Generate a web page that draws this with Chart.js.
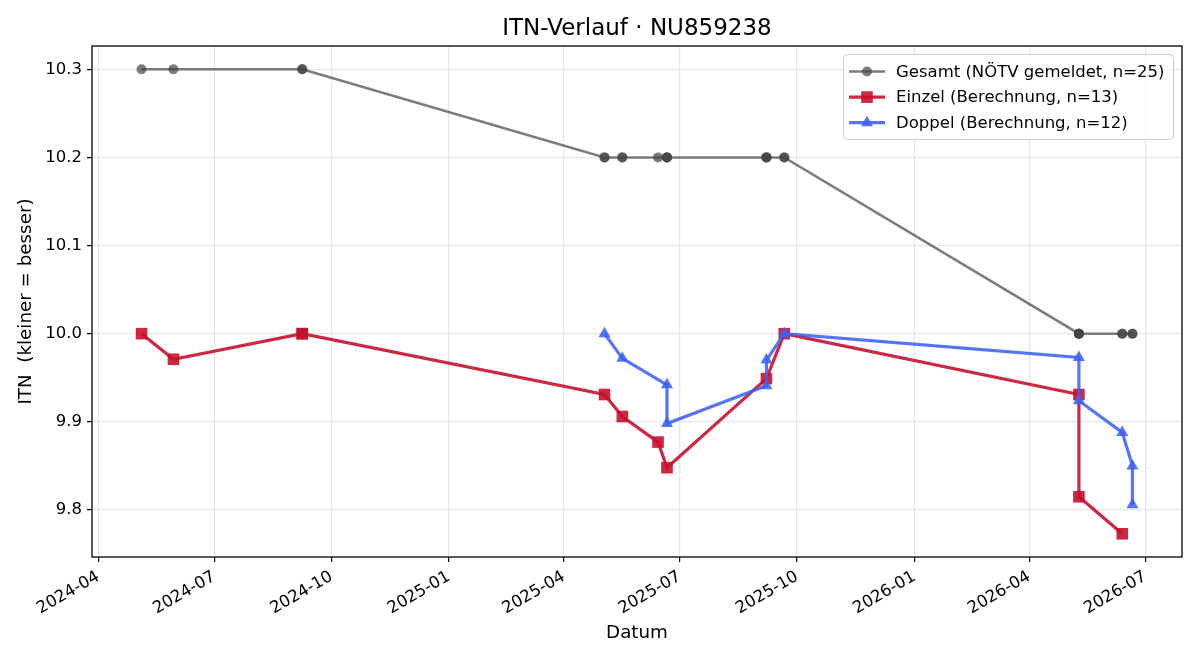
<!DOCTYPE html>
<html>
<head>
<meta charset="utf-8">
<title>ITN-Verlauf</title>
<script src="https://cdn.jsdelivr.net/npm/chart.js@4.4.1/dist/chart.umd.min.js"></script>
<style>
  html, body { margin: 0; padding: 0; background: #fff; }
</style>
</head>
<body>
<canvas id="itnChart" width="1200" height="660"></canvas>
<script>
// values
const gesamtDates = [
    "2024-05-05", "2024-05-30", "2024-09-08", "2024-09-08",
    "2025-05-03", "2025-05-03", "2025-05-17", "2025-05-17", "2025-06-14",
    "2025-06-21", "2025-06-21", "2025-06-21", "2025-09-07", "2025-09-07", "2025-09-07",
    "2025-09-21", "2025-09-21",
    "2026-05-10", "2026-05-10", "2026-05-10", "2026-05-10",
    "2026-06-13", "2026-06-13", "2026-06-21", "2026-06-21"
];
const gesamtValues = [
    10.3, 10.3, 10.3, 10.3,
    10.2, 10.2, 10.2, 10.2, 10.2,
    10.2, 10.2, 10.2, 10.2, 10.2, 10.2,
    10.2, 10.2,
    10.0, 10.0, 10.0, 10.0,
    10.0, 10.0, 10.0, 10.0
];

const einzelDates = [
    "2024-05-05", "2024-05-30", "2024-09-08", "2024-09-08",
    "2025-05-03", "2025-05-17", "2025-06-14", "2025-06-21",
    "2025-09-07", "2025-09-21", "2026-05-10", "2026-05-10", "2026-06-13"
];
const einzelValues = [
    10.0, 9.971, 10.0, 10.0,
    9.931, 9.906, 9.877, 9.848,
    9.949, 10.0, 9.931, 9.815, 9.773
];

const doppelDates = [
    "2025-05-03", "2025-05-17", "2025-06-21", "2025-06-21",
    "2025-09-07", "2025-09-07", "2025-09-21", "2026-05-10",
    "2026-05-10", "2026-06-13", "2026-06-21", "2026-06-21"
];
const doppelValues = [
    10.0, 9.972, 9.942, 9.898,
    9.941, 9.970, 10.0, 9.973,
    9.924, 9.888, 9.850, 9.806
];

const xTickLabels = [
    "2024-04", "2024-07", "2024-10", "2025-01", "2025-04",
    "2025-07", "2025-10", "2026-01", "2026-04", "2026-07"
];
const yTickLabels = ["9.8", "9.9", "10.0", "10.1", "10.2", "10.3"];

const seriesLabels = [
    "Gesamt (NÖTV gemeldet, n=25)",
    "Einzel (Berechnung, n=13)",
    "Doppel (Berechnung, n=12)"
];

const FONT = "'DejaVu Sans', 'Liberation Sans', sans-serif";

function toTime(s) {
    const p = s.split("-").map(Number);
    return Date.UTC(p[0], p[1] - 1, p[2] || 1);
}

function toPoints(dates, values) {
    return dates.map((d, i) => ({ x: toTime(d), y: values[i] }));
}

// matplotlib-like 5% margins
const allTimes = gesamtDates.map(toTime);
const tMin = Math.min(...allTimes), tMax = Math.max(...allTimes);
const xMin = tMin - (tMax - tMin) * 0.05;
const xMax = tMax + (tMax - tMin) * 0.05;
const allVals = gesamtValues.concat(einzelValues, doppelValues);
const vMin = Math.min(...allVals), vMax = Math.max(...allVals);
const yMin = vMin - (vMax - vMin) * 0.05;
const yMax = vMax + (vMax - vMin) * 0.05;

// center the title over the plot area, not the whole canvas
const titleOverPlot = {
    id: "titleOverPlot",
    afterLayout(chart) {
        if (chart.titleBlock) {
            chart.titleBlock.left = chart.chartArea.left;
            chart.titleBlock.right = chart.chartArea.right;
            chart.titleBlock.width = chart.chartArea.right - chart.chartArea.left;
        }
    }
};

const spines = {
    id: "spines",
    afterDatasetsDraw(chart) {
        const a = chart.chartArea;
        const ctx = chart.ctx;
        ctx.save();
        ctx.strokeStyle = "#000";
        ctx.lineWidth = 1.3;
        ctx.strokeRect(a.left, a.top, a.right - a.left, a.bottom - a.top);
        ctx.restore();
    }
};

const legendBox = {
    id: "legendBox",
    afterDraw(chart) {
        const a = chart.chartArea;
        const ctx = chart.ctx;
        const w = 330, h = 85;
        const x0 = a.right - 9 - w, y0 = a.top + 8;
        ctx.save();
        ctx.fillStyle = "rgba(255,255,255,0.8)";
        ctx.strokeStyle = "#cccccc";
        ctx.lineWidth = 1;
        ctx.beginPath();
        ctx.roundRect(x0 + 0.5, y0 + 0.5, w, h, 4);
        ctx.fill();
        ctx.stroke();

        chart.data.datasets.forEach((ds, i) => {
            const y = y0 + 17.5 + i * 25.6;
            ctx.strokeStyle = ds.borderColor;
            ctx.lineWidth = ds.borderWidth;
            ctx.beginPath();
            ctx.moveTo(x0 + 6, y);
            ctx.lineTo(x0 + 42, y);
            ctx.stroke();
            ctx.fillStyle = ds.pointBackgroundColor;
            Chart.helpers.drawPoint(ctx, {
                pointStyle: ds.pointStyle,
                radius: ds.pointRadius,
                rotation: 0,
                borderWidth: 0
            }, x0 + 24, y);
            ctx.fillStyle = "#000";
            ctx.font = "16.5px " + FONT;
            ctx.textBaseline = "middle";
            ctx.textAlign = "left";
            ctx.fillText(ds.label, x0 + 53, y + 1);
        });
        ctx.restore();
    }
};

Chart.defaults.color = "#000";
Chart.defaults.font.family = FONT;

new Chart(document.getElementById("itnChart").getContext("2d"), {
    type: "line",
    data: {
        datasets: [{
            label: seriesLabels[0],
            data: toPoints(gesamtDates, gesamtValues),
            borderColor: "rgba(68,68,68,0.7)",
            backgroundColor: "rgba(68,68,68,0.7)",
            pointBackgroundColor: "rgba(68,68,68,0.7)",
            borderWidth: 2.5,
            pointStyle: "circle",
            pointRadius: 5,
            pointBorderWidth: 0,
            order: 2
        }, {
            label: seriesLabels[1],
            data: toPoints(einzelDates, einzelValues),
            borderColor: "rgba(200,16,46,0.9)",
            backgroundColor: "rgba(200,16,46,0.9)",
            pointBackgroundColor: "rgba(200,16,46,0.9)",
            borderWidth: 3.2,
            pointStyle: "rect",
            pointRadius: 8.2,
            pointBorderWidth: 0,
            order: 1
        }, {
            label: seriesLabels[2],
            data: toPoints(doppelDates, doppelValues),
            borderColor: "rgba(62,98,245,0.88)",
            backgroundColor: "rgba(62,98,245,0.88)",
            pointBackgroundColor: "rgba(62,98,245,0.88)",
            borderWidth: 3.2,
            pointStyle: "triangle",
            pointRadius: 7,
            pointBorderWidth: 0,
            order: 0
        }]
    },
    options: {
        responsive: false,
        animation: false,
        devicePixelRatio: 1,
        layout: { padding: { left: 0, right: 18, top: 0, bottom: 0 } },
        plugins: {
            legend: { display: false },
            tooltip: { enabled: false },
            title: {
                display: true,
                text: "ITN-Verlauf · NU859238",
                font: { size: 23, weight: "normal" },
                color: "#000",
                padding: { top: 15, bottom: 3.4 }
            }
        },
        scales: {
            x: {
                type: "linear",
                min: xMin,
                max: xMax,
                afterBuildTicks: (scale) => {
                    scale.ticks = xTickLabels.map(t => ({ value: toTime(t) }));
                },
                afterFit: (scale) => { scale.height = 103; },
                ticks: {
                    autoSkip: false,
                    minRotation: 30,
                    maxRotation: 30,
                    padding: 5,
                    font: { size: 16.5 },
                    callback: (v) => {
                        const d = new Date(v);
                        return d.getUTCFullYear() + "-" + String(d.getUTCMonth() + 1).padStart(2, "0");
                    }
                },
                grid: { color: "#e6e6e6", lineWidth: 1.2, tickColor: "#000", tickLength: 5 },
                border: { display: false },
                title: {
                    display: true,
                    text: "Datum",
                    font: { size: 18.3 },
                    padding: { top: 0, bottom: 16 }
                }
            },
            y: {
                min: yMin,
                max: yMax,
                afterBuildTicks: (scale) => {
                    scale.ticks = yTickLabels.map(t => ({ value: parseFloat(t) }));
                },
                afterFit: (scale) => { scale.width = 92; },
                ticks: {
                    padding: 5,
                    font: { size: 16.5 },
                    callback: (v) => v.toFixed(1)
                },
                grid: { color: "#e6e6e6", lineWidth: 1.2, tickColor: "#000", tickLength: 5 },
                border: { display: false },
                title: {
                    display: true,
                    text: "ITN  (kleiner = besser)",
                    font: { size: 18.3 },
                    padding: { top: 15.5, bottom: 0 }
                }
            }
        }
    },
    plugins: [titleOverPlot, spines, legendBox]
});
</script>
</body>
</html>
